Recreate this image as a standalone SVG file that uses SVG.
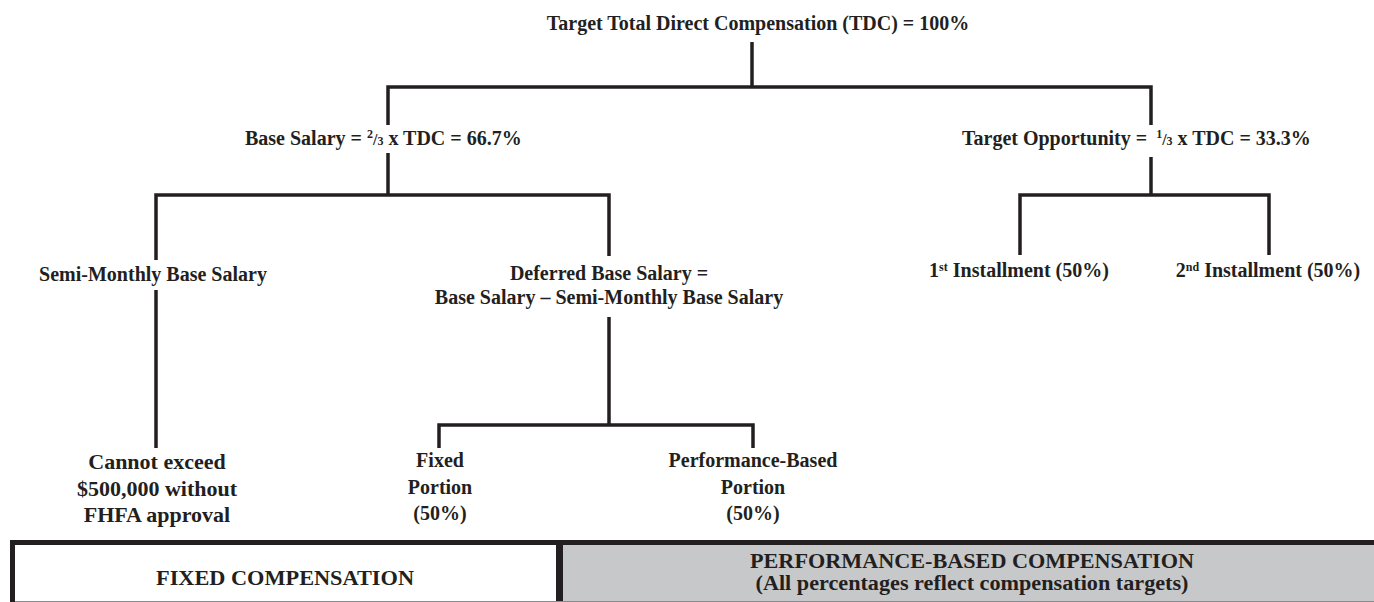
<svg xmlns="http://www.w3.org/2000/svg" width="1374" height="602" viewBox="0 0 1374 602">
<style>
.t{font-family:"Liberation Serif","Times New Roman",serif;font-weight:bold;font-size:20px;fill:#231f20}
.m{text-anchor:middle}
.big{font-size:22px}
.ln{stroke:#231f20;stroke-width:3.5;fill:none;stroke-linecap:butt;stroke-linejoin:miter}
.sm{font-size:12px}
</style>
<rect x="0" y="0" width="1374" height="602" fill="#ffffff"/>
<g id="connectors" class="ln">
<path d="M752 42V87"/>
<path d="M388 125V87H1151V125"/>
<path d="M388 153V195"/>
<path d="M156 260V195H609V256"/>
<path d="M1151 157V195"/>
<path d="M1020 255V195H1269V255"/>
<path d="M156 290V448"/>
<path d="M609 317V425"/>
<path d="M439 448V425H753V448"/>
</g>
<g id="node-tdc"><text class="t m" x="758" y="30">Target Total Direct Compensation (TDC) = 100%</text></g>
<g id="node-base"><text class="t" x="245" y="145">Base Salary = <tspan class="sm" dy="-7">2</tspan><tspan font-size="16" dy="7">/</tspan><tspan class="sm">3</tspan> x TDC = 66.7%</text></g>
<g id="node-target"><text class="t" x="962" y="145">Target Opportunity = <tspan class="sm" dx="4" dy="-7">1</tspan><tspan font-size="16" dy="7">/</tspan><tspan class="sm">3</tspan><tspan dx="5">x TDC = 33.3%</tspan></text></g>
<g id="node-semi"><text class="t m" x="153" y="281">Semi-Monthly Base Salary</text></g>
<g id="node-deferred"><text class="t m" x="609" y="280">Deferred Base Salary =</text><text class="t m" x="609" y="304">Base Salary – Semi-Monthly Base Salary</text></g>
<g id="node-first"><text class="t m" x="1019" y="277">1<tspan class="sm" dy="-6">st</tspan><tspan dy="6"> Installment (50%)</tspan></text></g>
<g id="node-second"><text class="t m" x="1268" y="277">2<tspan class="sm" dy="-6">nd</tspan><tspan dy="6"> Installment (50%)</tspan></text></g>
<g id="node-cap"><text class="t m big" x="157" y="469">Cannot exceed</text><text class="t m big" x="157" y="496">$500,000 without</text><text class="t m big" x="157" y="522">FHFA approval</text></g>
<g id="node-fixed-portion"><text class="t m" x="440" y="467">Fixed</text><text class="t m" x="440" y="494">Portion</text><text class="t m" x="440" y="520">(50%)</text></g>
<g id="node-perf-portion"><text class="t m" x="753" y="467">Performance-Based</text><text class="t m" x="753" y="494">Portion</text><text class="t m" x="753" y="520">(50%)</text></g>
<g id="legend">
<rect x="563" y="545" width="811" height="57" fill="#c7c8ca"/>
<line x1="10" y1="542.5" x2="1374" y2="542.5" stroke="#231f20" stroke-width="5"/>
<line x1="12.5" y1="540" x2="12.5" y2="602" stroke="#231f20" stroke-width="5"/>
<line x1="559.5" y1="540" x2="559.5" y2="602" stroke="#231f20" stroke-width="7"/>
<line x1="15" y1="601.5" x2="1374" y2="601.5" stroke="#8a8a8c" stroke-width="1"/>
<text class="t m" x="285" y="585" textLength="258" lengthAdjust="spacingAndGlyphs">FIXED COMPENSATION</text>
<text class="t m" x="972" y="568" textLength="444" lengthAdjust="spacingAndGlyphs">PERFORMANCE-BASED COMPENSATION</text>
<text class="t m" x="972" y="590" textLength="433" lengthAdjust="spacingAndGlyphs">(All percentages reflect compensation targets)</text>
</g>
</svg>
